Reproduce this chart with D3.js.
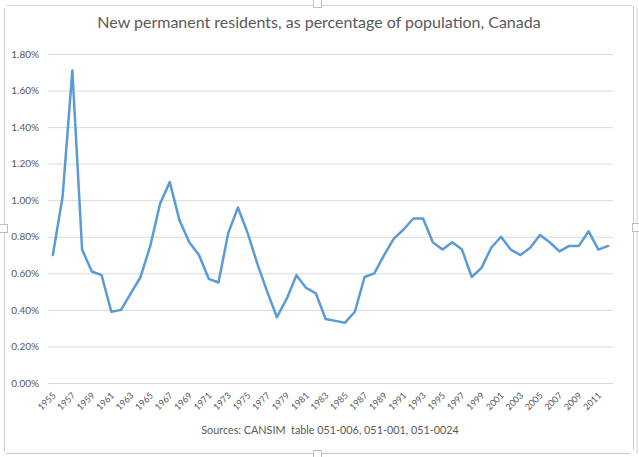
<!DOCTYPE html>
<html>
<head>
<meta charset="utf-8">
<script src="https://cdn.jsdelivr.net/npm/d3@7"></script>
<style>
  html, body { margin: 0; padding: 0; background: #ffffff; }
  svg { display: block; }
  text { font-family: Lato, "Open Sans", sans-serif; fill: #595959; }
</style>
</head>
<body>
<svg id="chart" width="639" height="457"></svg>
<script>
const years = d3.range(1955, 2013);
const values = [
  0.70, 1.02, 1.71, 0.73, 0.61, 0.59, 0.39, 0.40, 0.49, 0.58,
  0.75, 0.98, 1.10, 0.89, 0.77, 0.70, 0.57, 0.55, 0.82, 0.96,
  0.82, 0.65, 0.50, 0.36, 0.46, 0.59, 0.52, 0.49, 0.35, 0.34,
  0.33, 0.39, 0.58, 0.60, 0.70, 0.79, 0.84, 0.90, 0.90, 0.77,
  0.73, 0.77, 0.73, 0.58, 0.63, 0.74, 0.80, 0.73, 0.70, 0.74,
  0.81, 0.77, 0.72, 0.75, 0.75, 0.83, 0.73, 0.75
];
const yTicks = [0, 0.2, 0.4, 0.6, 0.8, 1.0, 1.2, 1.4, 1.6, 1.8];
const xLabelYears = d3.range(1955, 2012, 2);
const titleText = "New permanent residents, as percentage of population, Canada";
const sourceText = "Sources: CANSIM  table 051-006, 051-001, 051-0024";

const svg = d3.select("#chart");
const plot = { left: 48, right: 613, top: 54, bottom: 383 };

// frame
const frame = svg.append("g").attr("fill", "none");
frame.append("path").attr("d", "M7,5.5 H632").attr("stroke", "#d4d4d4");
frame.append("path").attr("d", "M4.5,8 V452").attr("stroke", "#d4d4d4");
frame.append("path").attr("d", "M6,453.5 H630").attr("stroke", "#c8c8c8");
frame.append("path").attr("d", "M633.5,6 V450").attr("stroke", "#c8c8c8");
frame.append("path").attr("d", "M637,8 V454").attr("stroke", "#d4d4d4");
// handles
const handles = [[313, -1], [632, 223], [-1, 224], [313, 450]];
svg.append("g").selectAll("rect").data(handles).join("rect")
  .attr("x", d => d[0] + 0.5).attr("y", d => d[1] + 0.5)
  .attr("width", 8).attr("height", 8)
  .attr("fill", "#ffffff").attr("stroke", "#bdbdbd");

const x = d3.scalePoint().domain(years).range([plot.left, plot.right]).padding(0.5);
const y = d3.scaleLinear().domain([0, 1.8]).range([plot.bottom, plot.top]);

// y axis with gridlines
const yAxis = svg.append("g")
  .attr("transform", `translate(${plot.left},0)`)
  .call(d3.axisLeft(y).tickValues(yTicks)
    .tickSize(-(plot.right - plot.left))
    .tickPadding(9)
    .tickFormat(d => d.toFixed(2) + "%"));
yAxis.select(".domain").remove();
yAxis.selectAll(".tick line").attr("stroke", "#d9d9d9").attr("stroke-width", 1);
yAxis.selectAll(".tick text")
  .style("font-family", "Lato, 'Open Sans', sans-serif")
  .attr("font-size", 10).attr("fill", "#595959");

// x axis labels
const xAxis = svg.append("g")
  .attr("transform", `translate(0,${plot.bottom})`)
  .call(d3.axisBottom(x).tickValues(xLabelYears).tickSize(0).tickPadding(0));
xAxis.select(".domain").remove();
xAxis.selectAll(".tick text")
  .style("font-family", "Lato, 'Open Sans', sans-serif")
  .attr("font-size", 9).attr("fill", "#6a6a6a")
  .attr("text-anchor", "end")
  .attr("y", 0).attr("dy", 0)
  .attr("transform", "translate(3,13) rotate(-45)");

// line
const line = d3.line().x((d, i) => x(years[i])).y(d => y(d));
svg.append("path").datum(values)
  .attr("d", line)
  .attr("fill", "none")
  .attr("stroke", "#5b9bd5")
  .attr("stroke-width", 2.5)
  .attr("stroke-linejoin", "round")
  .attr("stroke-linecap", "round");

// title
svg.append("text")
  .attr("x", 319).attr("y", 28)
  .attr("text-anchor", "middle")
  .attr("font-size", 16)
  .text(titleText);

// source
svg.append("text")
  .attr("x", 330).attr("y", 434)
  .attr("text-anchor", "middle")
  .attr("font-size", 10.8)
  .style("white-space", "pre")
  .text(sourceText);
</script>
</body>
</html>
